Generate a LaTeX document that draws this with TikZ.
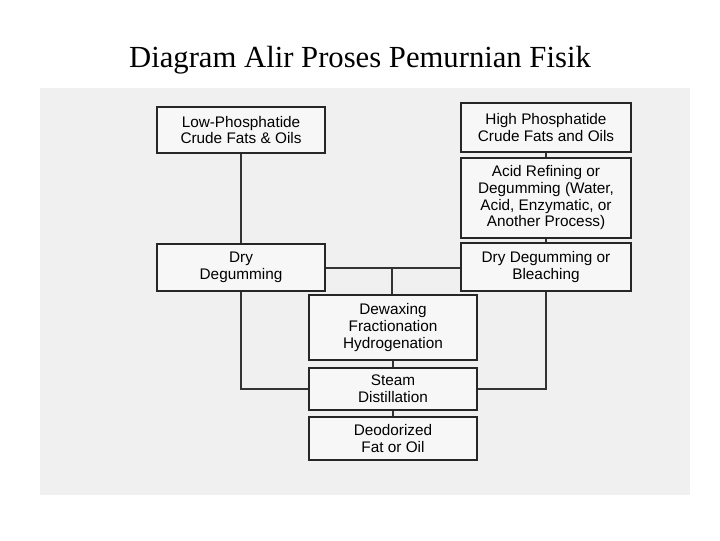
\documentclass[tikz,border=0pt]{standalone}
\usepackage{fontspec}
\setmainfont{Liberation Serif}
\newfontfamily\boxfont{Liberation Sans}
\begin{document}
\begin{tikzpicture}[x=0.75pt,y=-0.75pt,
  bx/.style={draw=black!85,line width=1.3pt,fill=gray!6,align=center,font=\boxfont\fontsize{11.5}{12.5}\selectfont,inner sep=0pt},
  ln/.style={draw=black!80,line width=1.6pt}]
\useasboundingbox (0,0) rectangle (720,540);
\fill[gray!12] (40,88) rectangle (690,495);
\node[font=\fontsize{23}{26}\selectfont] (title) at (360,60) {Diagram Alir Proses Pemurnian Fisik};
\node[bx,minimum width=168*0.75pt,minimum height=46*0.75pt] (low) at (241,130) {Low-Phosphatide\\Crude Fats \& Oils};
\node[bx,minimum width=170*0.75pt,minimum height=49*0.75pt] (high) at (546,127.5) {High Phosphatide\\Crude Fats and Oils};
\node[bx,minimum width=170*0.75pt,minimum height=80*0.75pt] (acid) at (546,198) {Acid Refining or\\Degumming (Water,\\Acid, Enzymatic, or\\Another Process)};
\node[bx,minimum width=170*0.75pt,minimum height=48*0.75pt] (dryr) at (546,267) {Dry Degumming or\\Bleaching};
\node[bx,minimum width=168*0.75pt,minimum height=47*0.75pt] (dryl) at (241,267.5) {Dry\\Degumming};
\node[bx,minimum width=168*0.75pt,minimum height=65*0.75pt] (dewax) at (393,327.5) {Dewaxing\\Fractionation\\Hydrogenation};
\node[bx,minimum width=168*0.75pt,minimum height=42*0.75pt] (steam) at (393,389) {Steam\\Distillation};
\node[bx,minimum width=168*0.75pt,minimum height=43*0.75pt] (deod) at (393,438.5) {Deodorized\\Fat or Oil};
\coordinate (j) at (392,268);
\draw[ln] (low) -- (dryl);
\draw[ln] (high) -- (acid);
\draw[ln] (acid) -- (dryr);
\draw[ln] (dryl.east |- j) -- (dryr.west |- j);
\draw[ln] (j) -- (dewax.north -| j);
\draw[ln] (dewax) -- (steam);
\draw[ln] (steam) -- (deod);
\draw[ln] (dryl.south) |- (steam.west);
\draw[ln] (dryr.south) |- (steam.east);
\end{tikzpicture}
\end{document}
